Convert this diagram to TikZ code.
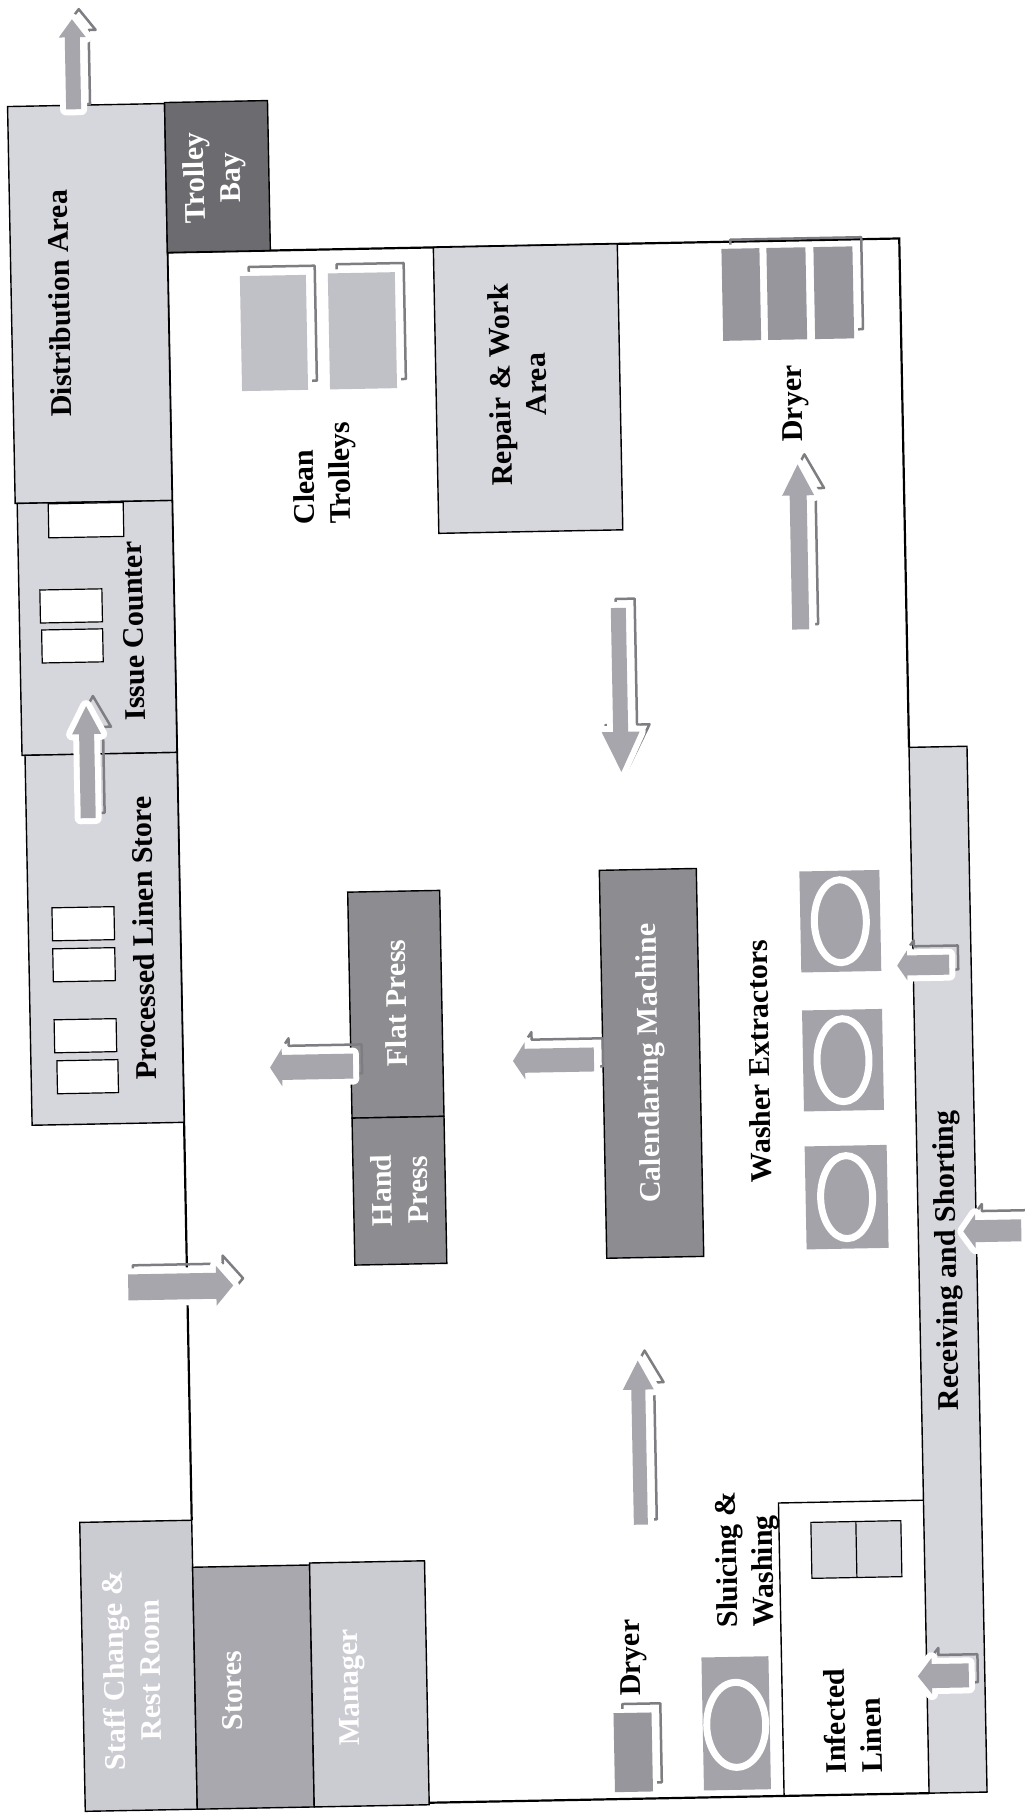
\documentclass[tikz,border=0pt]{standalone}
\usepackage{fontspec}
\setmainfont{Liberation Serif}
\definecolor{roomgray}{RGB}{214,214,221}
\definecolor{annexgray}{RGB}{203,203,210}
\definecolor{storegray}{RGB}{168,168,174}
\definecolor{baygray}{RGB}{108,108,112}
\definecolor{machgray}{RGB}{140,140,145}
\definecolor{flowgray}{RGB}{166,166,172}
\definecolor{shadowgray}{RGB}{125,125,130}
\definecolor{trolleygray}{RGB}{192,192,199}
\definecolor{dryergray}{RGB}{150,150,156}
\definecolor{washergray}{RGB}{163,163,169}

% tail, angle, length, body half width, head half width, head length
\newcommand{\flowarrow}[6]{%
  \begin{scope}[shift={#1}, shift={(7,-7)}, rotate=#2]
    \draw[shd] (-2,-#4-2) -- (#3-#6,-#4-2) -- (#3-#6,-#5-3) -- (#3+3,0)
      -- (#3-#6,#5+3) -- (#3-#6,#4+2) -- (-2,#4+2) -- cycle;
  \end{scope}
  \begin{scope}[shift={#1}, rotate=#2]
    \fill[flow] (0,-#4) -- (#3-#6,-#4) -- (#3-#6,-#5) -- (#3,0)
      -- (#3-#6,#5) -- (#3-#6,#4) -- (0,#4) -- cycle;
  \end{scope}}
% x1, y1, x2, y2, fill
\newcommand{\shadebox}[5]{%
  \draw[shd] (#1+9,#2-9) rectangle (#3+9,#4-9);
  \fill[halo, fill=#5] (#1,#2) rectangle (#3,#4);}

\begin{document}
\begin{tikzpicture}[x=1pt, y=-1pt,
  wall/.style={draw=black, line width=2.2pt},
  room/.style={draw=black, line width=1.4pt, fill=roomgray},
  annex/.style={room, fill=annexgray},
  darkroom/.style={room, fill=storegray},
  bay/.style={room, fill=baygray},
  mach/.style={room, fill=machgray},
  slot/.style={draw=black, line width=1.2pt, fill=white},
  cell/.style={draw=black, line width=1.2pt, fill=roomgray},
  wbox/.style={fill=washergray},
  ring/.style={draw=white, line width=7pt},
  halo/.style={preaction={draw=white, line width=8pt}},
  flow/.style={fill=flowgray, preaction={draw=white, line width=12pt, line join=round}},
  shd/.style={draw=shadowgray, line width=2.5pt, line join=round},
  lbl/.style={font=\bfseries\fontsize{30}{36}\selectfont, inner sep=0pt, rotate=91.1},
  wlbl/.style={lbl, text=white}]
\useasboundingbox[fill=white] (0,0) rectangle (1025,1815);
\begin{scope}[rotate around={1.1:(512,907)}]
  % hall
  \draw[wall] (180,1514) -- (180,246) -- (912,246) -- (912,755);
  \draw[wall] (412,1801) -- (912,1801);
  \draw[room] (912,755) rectangle (970,1801);
  \draw[draw=black, line width=1.4pt] (767,1801) -- (767,1508) -- (912,1508);
  % rooms on the left
  \draw[room] (23,97) rectangle (180,494);
  \draw[bay] (180,96) rectangle (283,246);
  \draw[room] (25,494) rectangle (180,746);
  \draw[room] (28,746) rectangle (180,1116);
  \draw[room] (446,246) rectangle (630,532);
  \draw[annex] (68,1514) rectangle (180,1803);
  \draw[darkroom] (180,1561) rectangle (297,1803);
  \draw[annex] (297,1559) rectangle (412,1803);
  % counters and shelves
  \draw[slot] (56,495) rectangle (131,529);
  \draw[slot] (46,581) rectangle (108,614);
  \draw[slot] (47,621) rectangle (108,654);
  \draw[slot] (52,899) rectangle (114,932);
  \draw[slot] (52,940) rectangle (114,973);
  \draw[slot] (52,1011) rectangle (114,1044);
  \draw[slot] (54,1052) rectangle (115,1085);
  \draw[cell] (799,1528) rectangle (889,1584);
  \draw[draw=black, line width=1.2pt] (844,1528) -- (844,1584);
  % machines
  \draw[mach] (348,889) rectangle (440,1115);
  \draw[mach] (348,1115) rectangle (440,1262);
  \draw[mach] (600,872) rectangle (697,1260);
  \fill[wbox] (800,877) rectangle (880,978);
  \fill[wbox] (800,1016) rectangle (880,1117);
  \fill[wbox] (800,1152) rectangle (882,1255);
  \draw[ring] (840,927.5) ellipse [x radius=26, y radius=41.5];
  \draw[ring] (840,1066.5) ellipse [x radius=26, y radius=41.5];
  \draw[ring] (841,1203.5) ellipse [x radius=26, y radius=41.5];
  \fill[wbox] (687,1661) rectangle (754,1794);
  \draw[ring] (720.5,1729) ellipse [x radius=29.5, y radius=42.5];
  \shadebox{252}{271}{318}{386}{trolleygray}
  \shadebox{340}{270}{407}{386}{trolleygray}
  \draw[shd] (743,244) rectangle (874,336);
  \fill[halo, fill=dryergray] (734,253) rectangle (772,345);
  \fill[halo, fill=dryergray] (779,253) rectangle (818,345);
  \fill[halo, fill=dryergray] (826,253) rectangle (865,345);
  \shadebox{598}{1715}{636}{1794}{dryergray}
  % flow of linen
  \flowarrow{(89,101)}{90}{90}{7.5}{13.5}{18}
  \flowarrow{(90,810)}{90}{112}{7.5}{14.5}{28}
  \flowarrow{(350,1063)}{180}{83}{12.5}{19}{12}
  \flowarrow{(591,1061)}{180}{81}{12}{18.5}{12}
  \flowarrow{(121,1280)}{0}{105}{13}{20}{17}
  \flowarrow{(624,610)}{-90}{164}{7.5}{19}{40}
  \flowarrow{(806,635)}{90}{165}{8.5}{16}{31}
  \flowarrow{(629,1527)}{90}{164}{7}{15.5}{29}
  \flowarrow{(948,973)}{180}{52}{10}{15}{10}
  \flowarrow{(1015,1240)}{180}{58}{11}{17}{12}
  \flowarrow{(954,1684)}{180}{51}{12}{18}{14}
  % labels
  \node[lbl] (dist) at (71,295) {Distribution Area};
  \node[wlbl, align=center] (tbay) at (229,172) {Trolley\\Bay};
  \node[lbl] (issue) at (139,624) {Issue Counter};
  \node[lbl] (pls) at (143,931) {Processed Linen Store};
  \node[lbl, align=left, anchor=west] (clean) at (333,521) {Clean\\Trolleys};
  \node[lbl, align=center] (repair) at (528,385) {Repair \& Work\\Area};
  \node[lbl] (dryertop) at (805,409) {Dryer};
  \node[wlbl] (flat) at (394,1001) {Flat Press};
  \node[wlbl, align=center] (hand) at (394,1188) {Hand\\Press};
  \node[wlbl] (cal) at (648,1066) {Calendaring Machine};
  \node[lbl] (washer) at (756,1066) {Washer Extractors};
  \node[lbl] (recv) at (942,1269) {Receiving and Shorting};
  \node[lbl, align=left, anchor=west] (sluice) at (735,1632) {Sluicing \&\\Washing};
  \node[lbl] (dryerlow) at (619,1660) {Dryer};
  \node[lbl, align=left, anchor=west] (infected) at (837,1780) {Infected\\Linen};
  \node[wlbl, align=center] (staff) at (117,1663) {Staff Change \&\\Rest Room};
  \node[wlbl] (stores) at (217,1685) {Stores};
  \node[wlbl] (mgr) at (337,1684) {Manager};
\end{scope}
\end{tikzpicture}
\end{document}
